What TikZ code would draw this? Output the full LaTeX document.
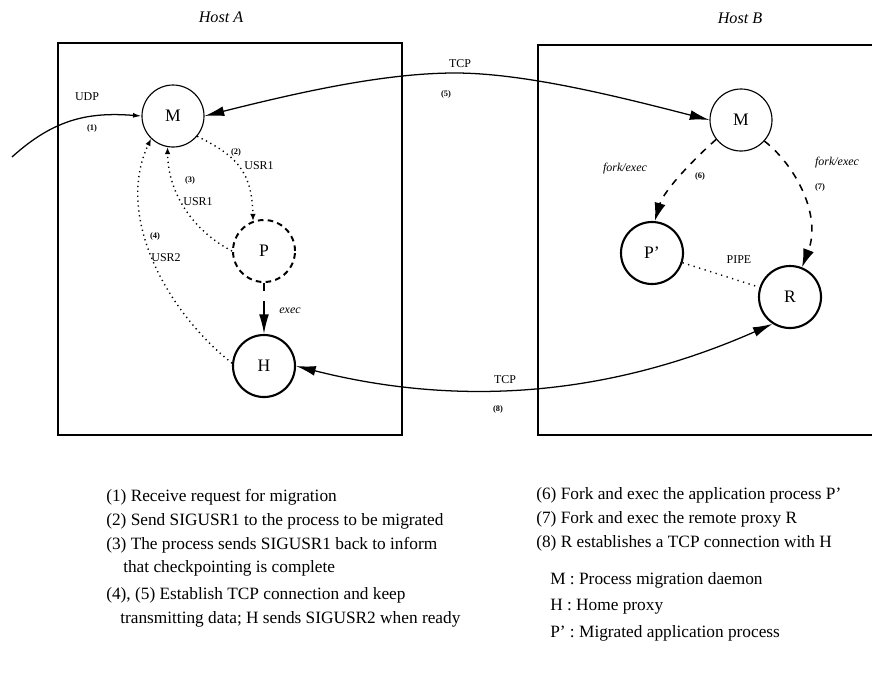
\documentclass[tikz,border=0pt]{standalone}
\usepackage{fontspec}
\setmainfont{Liberation Serif}
\usetikzlibrary{arrows.meta}

\begin{document}
\begin{tikzpicture}[x=0.025cm, y=-0.025cm,
  proc/.style={draw, circle, minimum size=1.55cm, inner sep=0pt, line width=0.8pt, font=\fontsize{12.5}{14}\selectfont},
  heavy/.style={proc, line width=1.5pt},
  lbl/.style={inner sep=0pt, font=\fontsize{8.5}{9}\selectfont},
  num/.style={inner sep=0pt, font=\fontsize{6}{7}\selectfont\bfseries},
  act/.style={inner sep=0pt, font=\fontsize{8.5}{9}\selectfont\itshape},
  item/.style={anchor=base west, inner sep=0pt, font=\fontsize{12.3}{14}\selectfont},
  sig/.style={line width=1pt, dash pattern=on 0.9pt off 2.6pt, -{Latex[length=5pt,width=4pt]}},
  fork/.style={line width=1.1pt, dash pattern=on 5pt off 5pt, -{Latex[length=13pt,width=8pt]}},
  tcp/.style={line width=0.9pt, {Latex[length=14pt,width=7pt]}-{Latex[length=14pt,width=7pt]}}
]
\useasboundingbox (0,0) rectangle (872,687);

% Hosts
\node[font=\fontsize{11.5}{13}\selectfont\itshape] (hostA) at (221,17) {Host A};
\node[font=\fontsize{11.5}{13}\selectfont\itshape] (hostB) at (740,18) {Host B};
\draw[line width=1.3pt] (58,43) rectangle (402,435);
\draw[line width=1.3pt] (872,45) -| (538,435) -- (872,435);

% Nodes
\node[proc] (mA) at (173,116) {M};
\node[proc, dash pattern=on 4pt off 3pt, line width=1.4pt] (P) at (264,251) {P};
\node[heavy] (H) at (264,366) {H};
\node[proc] (mB) at (741,120) {M};
\node[heavy] (Pp) at (652,253) {P'};
\node[heavy] (R) at (790,297) {R};
\coordinate (udp) at (12,157);

% Arrows
\draw[line width=0.9pt, -{Latex[length=6pt,width=3.5pt]}] (udp) .. controls (55,118) and (90,112) .. (mA.west);
\node[lbl] (udpL) at (87,97) {UDP};
\node[num] (n1) at (92,128) {(1)};

\draw[tcp] (mA.east) .. controls (300,92) and (385,73) .. (455,73) .. controls (525,73) and (620,97) .. (mB.west);
\node[lbl] (tcpA) at (460,64) {TCP};
\node[num] (n5) at (446,94) {(5)};

\draw[sig] (mA.-40) .. controls (235,155) and (252,170) .. (P.110);
\node[num] (n2) at (236,152) {(2)};
\node[lbl] (usr1a) at (259,166) {USR1};

\draw[sig] (P.west) .. controls (195,232) and (168,195) .. (mA.260);
\node[num] (n3) at (190,180) {(3)};
\node[lbl] (usr1b) at (198,202) {USR1};

\draw[sig] (H.175) .. controls (165,310) and (115,215) .. (mA.226);
\node[num] (n4) at (155,236) {(4)};
\node[lbl] (usr2) at (166,258) {USR2};

\draw[line width=1.1pt, dash pattern=on 5.5pt off 7pt on 30pt, -{Latex[length=14pt,width=7pt]}] (P.south) -- (H.north);
\node[act] (execL) at (290,311) {exec};

\draw[tcp] (H.east) .. controls (450,405) and (600,400) .. (R.237);
\node[lbl] (tcpB) at (505,380) {TCP};
\node[num] (n8) at (498,409) {(8)};

\draw[fork] (mB.218) .. controls (695,158) and (664,190) .. (Pp.85);
\node[act] (fork6) at (625,169) {fork/exec};
\node[num] (n6) at (700,176) {(6)};

\draw[fork] (mB.-42) .. controls (795,165) and (822,215) .. (R.68);
\node[act] (fork7) at (837,163) {fork/exec};
\node[num] (n7) at (820,187) {(7)};

\draw[line width=1pt, dash pattern=on 0.9pt off 3.2pt] (Pp) -- (R);
\node[lbl] (pipe) at (739,260) {PIPE};

% Legend
\node[item] (s1) at (106,501) {(1) Receive request for migration};
\node[item] (s2) at (106,525) {(2) Send SIGUSR1 to the process to be migrated};
\node[item] (s3) at (106,549) {(3) The process sends SIGUSR1 back to inform};
\node[item] (s3b) at (123,572) {that checkpointing is complete};
\node[item] (s45) at (106,599) {(4), (5) Establish TCP connection and keep};
\node[item] (s45b) at (120,623) {transmitting data; H sends SIGUSR2 when ready};
\node[item] (s6) at (536,499) {(6) Fork and exec the application process P'};
\node[item] (s7) at (536,523) {(7) Fork and exec the remote proxy R};
\node[item] (s8) at (536,547) {(8) R establishes a TCP connection with H};
\node[item] (kM) at (550,584) {M : Process migration daemon};
\node[item] (kH) at (550,610) {H : Home proxy};
\node[item] (kP) at (550,637) {P' : Migrated application process};
\end{tikzpicture}
\end{document}
